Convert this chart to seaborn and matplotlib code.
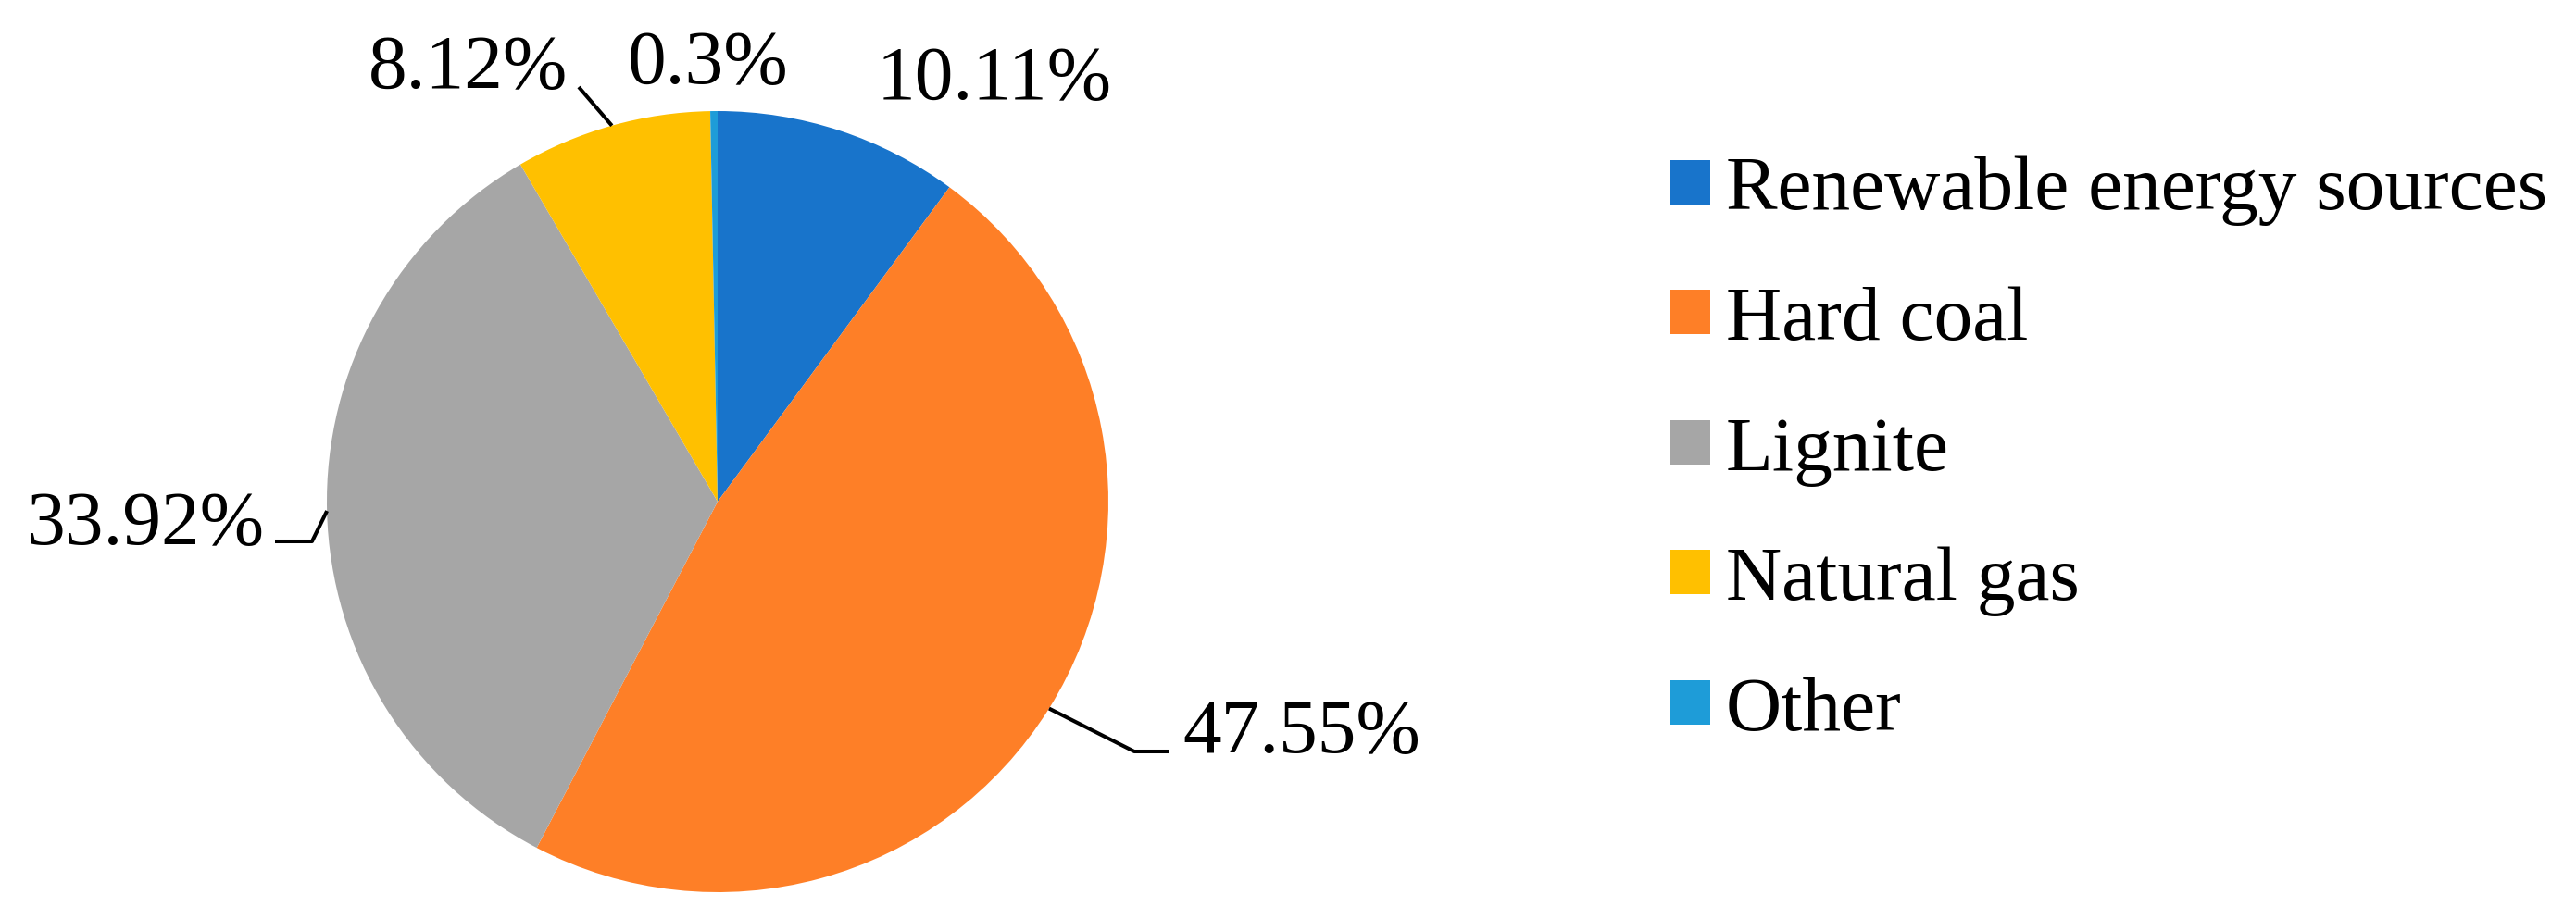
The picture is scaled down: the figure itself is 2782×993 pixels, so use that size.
import numpy as np
import matplotlib
matplotlib.use('Agg')
import matplotlib.pyplot as plt
import seaborn as sns

categories = ['Renewable energy sources', 'Hard coal', 'Lignite', 'Natural gas', 'Other']
shares = [10.11, 47.55, 33.92, 8.12, 0.3]
label_texts = ['10.11%', '47.55%', '33.92%', '8.12%', '0.3%']
colors = ['#1874CB', '#FE7F27', '#A6A6A6', '#FFC000', '#1E9CD8']

sns.set_theme(style='white')
plt.rcParams['font.family'] = ['Liberation Serif', 'DejaVu Serif']
plt.rcParams['text.color'] = 'black'

W, H = 2782, 993
fig = plt.figure(figsize=(W / 100, H / 100), dpi=100)

# pie centre (775, 542) px, radius 422 px
cx, cy, r = 775, 542, 422
ax = fig.add_axes([(cx - r) / W, (H - cy - r) / H, 2 * r / W, 2 * r / H])
wedges, _ = ax.pie(shares, colors=colors, startangle=90, counterclock=False,
                   radius=1, wedgeprops=dict(linewidth=0))
ax.set_xlim(-1, 1)
ax.set_ylim(-1, 1)
ax.set_aspect('equal')
ax.axis('off')


def px(x, y):
    # pixel position -> pie data coordinates
    return (x - cx) / r, (cy - y) / r


fs = 60
# label anchor (centre x, baseline y) in pixels
label_pos = [(1074, 107), (1406, 813), (157, 588), (506, 95), (765, 90)]
for txt, (lx, ly) in zip(label_texts, label_pos):
    x, y = px(lx, ly)
    ax.text(x, y, txt, ha='center', va='baseline', fontsize=fs, color='black')

# leader lines start at the middle of the wedge edge
mids = {}
for w, name in zip(wedges, categories):
    a = np.deg2rad((w.theta1 + w.theta2) / 2)
    mids[name] = (np.cos(a), np.sin(a))

leaders = {
    'Hard coal': [px(1225, 812), px(1263, 812)],
    'Lignite': [px(337, 585), px(297, 585)],
    'Natural gas': [px(625, 94)],
}
for name, pts in leaders.items():
    xs = [mids[name][0]] + [p[0] for p in pts]
    ys = [mids[name][1]] + [p[1] for p in pts]
    ax.plot(xs, ys, color='black', lw=2.9, clip_on=False, solid_capstyle='butt')

fig.legend(wedges, categories, loc='upper left',
           bbox_to_anchor=(1804 / W, 1 - 169 / H), frameon=False,
           fontsize=fs, handlelength=0.51, handleheight=0.51,
           handletextpad=0.21, labelspacing=0.78, borderpad=0, borderaxespad=0,
           labelcolor='black')

fig.savefig('out.png', dpi=100, facecolor='white')
